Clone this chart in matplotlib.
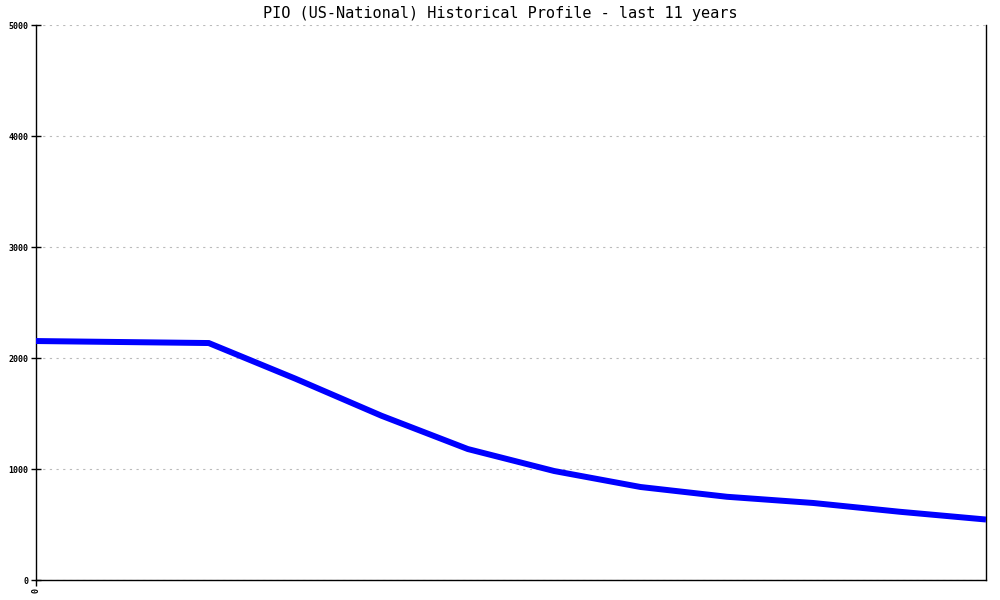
import matplotlib
matplotlib.use("Agg")
import matplotlib.pyplot as plt
import numpy as np

plt.rcParams['font.family'] = 'DejaVu Sans Mono'

# yearly values, last 11 years
years = np.arange(12)
values = [2153, 2144, 2135, 1815, 1480, 1180, 982, 838, 750, 694, 615, 545]
yticks = [0, 1000, 2000, 3000, 4000, 5000]

fig = plt.figure(figsize=(10, 6), dpi=100)
ax = fig.add_axes([0.036, 0.0333, 0.95, 0.925])

ax.plot(years, values, color='#0000ff', linewidth=4.3, solid_capstyle='butt',
        solid_joinstyle='miter', zorder=3)

ax.set_xlim(0, 11)
ax.set_ylim(0, 5000)
ax.set_yticks(yticks)
ax.set_yticklabels([str(v) for v in yticks], fontsize=6, fontweight='bold')
ax.set_xticks([0])
ax.set_xticklabels(['0'], fontsize=6, rotation=90, fontweight='bold')
ax.tick_params(axis='y', direction='inout', length=7, width=1, pad=2)
ax.tick_params(axis='x', direction='out', length=4, width=1, pad=2)

ax.grid(axis='y', color='#bbbbbb', linestyle=(0, (2, 4)), linewidth=0.8)
ax.spines['top'].set_visible(False)
for s in ['left', 'bottom', 'right']:
    ax.spines[s].set_linewidth(1)
    ax.spines[s].set_color('black')

fig.text(0.5, 0.978, 'PIO (US-National) Historical Profile - last 11 years',
         ha='center', va='center', fontsize=11)

fig.savefig('out.png', dpi=100)
